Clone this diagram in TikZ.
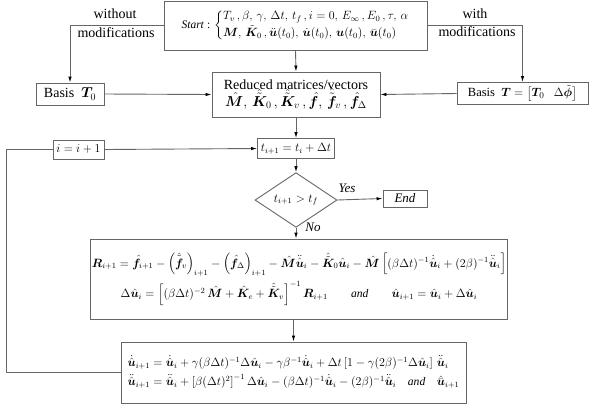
\documentclass[tikz,border=0pt]{standalone}
\usepackage{amsmath,bm}
\usepackage{fontspec}
\setmainfont{Liberation Serif}
\usetikzlibrary{shapes.geometric,arrows.meta}
\begin{document}
\begin{tikzpicture}[x=1pt,y=-1pt,
  box/.style={draw=black!60, line width=0.9pt, rectangle, inner sep=1pt, font=\fontsize{12}{14}\selectfont},
  dia/.style={draw=black!60, line width=0.9pt, diamond, inner sep=0pt, font=\fontsize{12}{14}\selectfont},
  lbl/.style={font=\fontsize{14}{16}\selectfont, inner sep=0pt},
  arr/.style={draw=black!60, line width=0.9pt, -{Latex[length=6pt,width=3.5pt,color=black]}},
  ln/.style={draw=black!60, line width=0.9pt}]
\useasboundingbox (0,0) rectangle (593,408);
\fill[white] (0,0) rectangle (593,408);

\node[box, minimum width=263pt, minimum height=49pt, font=\fontsize{11.5}{13}\selectfont] (start) at (295.5,25.5)
  {\textit{Start} : $\left\{\begin{array}{@{}l@{}}
   T_v\,, \beta,\, \gamma,\, \Delta t,\, t_f\,, i = 0,\, E_\infty\,, E_0\,, \tau,\, \alpha\\[2pt]
   \bm{M},\, \tilde{\bm{K}}_0\,, \ddot{\bm{u}}(t_0),\, \dot{\bm{u}}(t_0),\, \bm{u}(t_0),\, \bar{\bm{u}}(t_0)
  \end{array}\right.$};

\node[box, minimum width=68pt, minimum height=22pt, font=\fontsize{14}{16}\selectfont] (b0) at (70,94) {Basis\ \ $\bm{T}_0$};
\node[box, minimum width=168pt, minimum height=45pt, align=center, font=\fontsize{14}{16}\selectfont] (red) at (296,94.5)
  {Reduced matrices/vectors\\[-2pt]
   $\hat{\bm{M}},\, \hat{\tilde{\bm{K}}}_0\,, \hat{\tilde{\bm{K}}}_v\,, \hat{\bm{f}},\, \hat{\tilde{\bm{f}}}_v\,, \hat{\bm{f}}_\Delta$};
\node[box, minimum width=131pt, minimum height=22pt, font=\fontsize{12.5}{15}\selectfont] (bT) at (522.5,93.5)
  {Basis\ \ $\bm{T} = \bigl[\bm{T}_0 \ \ \ \Delta\tilde{\bm{\phi}}\bigr]$};

\node[box, minimum width=77pt, minimum height=20pt] (tb) at (296,148.5) {$t_{i+1} = t_i + \Delta t$};
\node[box, minimum width=51pt, minimum height=19pt, font=\fontsize{13}{15}\selectfont] (ib) at (78.5,149.5) {$i = i+1$};
\node[dia, minimum width=82pt, minimum height=41pt] (d) at (296,200) {$t_{i+1} > t_f$};
\node[box, minimum width=44pt, minimum height=17pt, font=\fontsize{13}{15}\selectfont] (end) at (405,198.5) {\textit{End}};

\node[box, minimum width=416pt, minimum height=80pt, align=center, font=\fontsize{11.6}{13}\selectfont] (R) at (299,279)
  {$\bm{R}_{i+1} = \hat{\bm{f}}_{i+1} - \left(\hat{\tilde{\bm{f}}}_v\right)_{i+1} - \left(\hat{\bm{f}}_\Delta\right)_{i+1} - \hat{\bm{M}}\ddot{\hat{\bm{u}}}_i - \hat{\tilde{\bm{K}}}_0\hat{\bm{u}}_i - \hat{\bm{M}}\left[(\beta\Delta t)^{-1}\dot{\hat{\bm{u}}}_i + (2\beta)^{-1}\ddot{\hat{\bm{u}}}_i\right]$\\[4pt]
   $\Delta\hat{\bm{u}}_i = \left[(\beta\Delta t)^{-2}\,\hat{\bm{M}} + \hat{\bm{K}}_e + \hat{\tilde{\bm{K}}}_v\right]^{-1}\bm{R}_{i+1} \qquad \textit{and} \qquad \hat{\bm{u}}_{i+1} = \hat{\bm{u}}_i + \Delta\hat{\bm{u}}_i$};

\node[box, minimum width=345pt, minimum height=61pt, font=\fontsize{11.6}{13}\selectfont] (bot) at (293.5,372.5)
  {$\begin{array}{@{}r@{\;}l@{}}
   \dot{\hat{\bm{u}}}_{i+1} =& \dot{\hat{\bm{u}}}_i + \gamma(\beta\Delta t)^{-1}\Delta\hat{\bm{u}}_i - \gamma\beta^{-1}\dot{\hat{\bm{u}}}_i + \Delta t\left[1 - \gamma(2\beta)^{-1}\Delta\hat{\bm{u}}_i\right]\,\ddot{\hat{\bm{u}}}_i\\[4pt]
   \ddot{\hat{\bm{u}}}_{i+1} =& \ddot{\hat{\bm{u}}}_i + \left[\beta(\Delta t)^2\right]^{-1}\Delta\hat{\bm{u}}_i - (\beta\Delta t)^{-1}\dot{\hat{\bm{u}}}_i - (2\beta)^{-1}\ddot{\hat{\bm{u}}}_i \quad \textit{and} \quad \hat{\bar{\bm{u}}}_{i+1}
  \end{array}$};

\node[lbl] (l1) at (115,14) {without};
\node[lbl] (l2) at (116,33) {modifications};
\node[lbl] (l3) at (475,14) {with};
\node[lbl] (l4) at (477,32) {modifications};
\node[lbl, font=\fontsize{13}{15}\itshape] (yes) at (347,188) {Yes};
\node[lbl, font=\fontsize{13}{15}\itshape] (no) at (313,227) {No};

\coordinate (lp) at (6,372.5);

\draw[arr] (start.west) -| (b0.north);
\draw[arr] (start.east) -| (bT.north);
\draw[arr] (start.south) -- (red.north);
\draw[arr] (b0.east) -- (red.west);
\draw[arr] (bT.west) -- (red.east);
\draw[arr] (red.south) -- (tb.north);
\draw[arr] (tb.south) -- (d.north);
\draw[arr] (d.east) -- (end.west);
\draw[arr] (d.south) -- (d.south |- R.north);
\draw[arr] (bot.north |- R.south) -- (bot.north);
\draw[ln] (bot.west) -- (lp) |- (ib.west);
\draw[arr] (ib.east) -- (tb.west);
\end{tikzpicture}
\end{document}
